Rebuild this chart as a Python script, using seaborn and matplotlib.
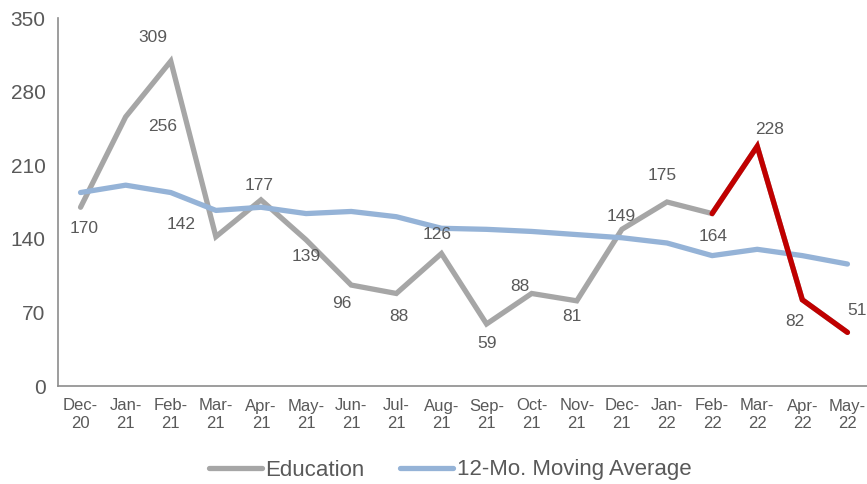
import numpy as np
import pandas as pd
import matplotlib
matplotlib.use("Agg")
import matplotlib.pyplot as plt
import seaborn as sns

months = ["Dec-\n20", "Jan-\n21", "Feb-\n21", "Mar-\n21", "Apr-\n21", "May-\n21",
          "Jun-\n21", "Jul-\n21", "Aug-\n21", "Sep-\n21", "Oct-\n21", "Nov-\n21",
          "Dec-\n21", "Jan-\n22", "Feb-\n22", "Mar-\n22", "Apr-\n22", "May-\n22"]
education = [170, 256, 309, 142, 177, 139, 96, 88, 126, 59, 88, 81, 149, 175, 164, 228, 82, 51]
moving_avg = [184, 191, 184, 167, 170, 164, 166, 161, 150, 149, 147, 144, 141, 136, 124, 130, 124, 116]
y_ticks = [0, 70, 140, 210, 280, 350]
# label offsets (pixels) as placed in the original
label_dx = [4, 37, -18, -35, -2, 0, -9, 3, -4, 0, -12, -5, -1, -5, 1, 12, -7, 10]
label_dy = [21, 10, -24, -12, -14, 17, 18, 23, -19, 20, -7, 16, -13, -26, 23, -17, 22, -22]

sns.set_style("white")
plt.rcParams["font.family"] = ["Liberation Sans", "DejaVu Sans"]

text_col = "#595959"
axis_col = "#8c8c8c"

df = pd.DataFrame({"x": np.arange(len(months)), "edu": education, "ma": moving_avg})

fig = plt.figure(figsize=(8.67, 4.84), dpi=100)
ax = fig.add_axes([58 / 867, 98 / 484, 812 / 867, 368 / 484])

sns.lineplot(data=df, x="x", y="edu", color="#a6a6a6", linewidth=3.8, ax=ax,
             label="Education", solid_joinstyle="miter")
sns.lineplot(data=df, x="x", y="ma", color="#95b3d7", linewidth=3.8, ax=ax,
             label="12-Mo. Moving Average")
sns.lineplot(data=df.iloc[14:], x="x", y="edu", color="#c00000", linewidth=3.8, ax=ax,
             legend=False, solid_joinstyle="miter")

for i, v in enumerate(education):
    ax.annotate(str(v), (i, v), xytext=(label_dx[i] * 0.72, -label_dy[i] * 0.72),
                textcoords="offset points", ha="center", va="center",
                fontsize=12.5, color=text_col)

ax.set_xlim(-0.5, len(months) - 0.5)
ax.set_ylim(0, 350)
ax.set_yticks(y_ticks)
ax.set_yticklabels([str(t) for t in y_ticks], fontsize=15, color=text_col)
ax.set_xticks(np.arange(len(months)))
ax.set_xticklabels(months, fontsize=12, color=text_col, linespacing=1.25)
ax.set_xticks(np.arange(len(months) + 1) - 0.5, minor=True)
ax.tick_params(axis="x", which="major", length=0, pad=9)
ax.tick_params(axis="x", which="minor", length=4, color=axis_col, width=1)
ax.tick_params(axis="y", length=4, color=axis_col, width=1, pad=5)
ax.set_xlabel("")
ax.set_ylabel("")

sns.despine(ax=ax, top=True, right=True)
for s in ["left", "bottom"]:
    ax.spines[s].set_color(axis_col)
    ax.spines[s].set_linewidth(1.2)

leg = ax.legend(loc="center", bbox_to_anchor=(450 / 867, 1 - 470 / 484),
                bbox_transform=fig.transFigure, ncol=2, frameon=False,
                handlelength=2.4, columnspacing=1.6, handletextpad=0.15,
                prop={"size": 16})
for t in leg.get_texts():
    t.set_color(text_col)

fig.savefig("out.png", dpi=100)
